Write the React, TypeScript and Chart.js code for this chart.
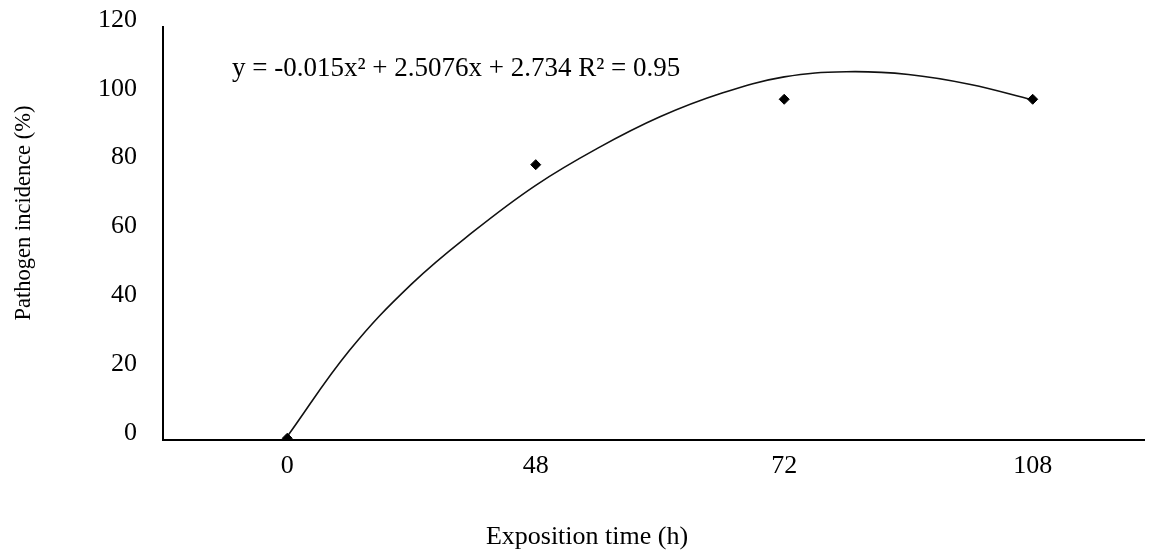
import React, { useEffect, useRef } from 'react';
import { Chart, registerables } from 'chart.js';

Chart.register(...registerables);

// ---- data ----
const categories = ['0', '48', '72', '108'];
const incidence = [0.5, 80, 99, 99];
// trend curve samples (x in category-index units)
const trendX = [0, 0.25, 0.5, 0.75, 1, 1.25, 1.5, 1.75, 2, 2.25, 2.5, 2.75, 3];
const trendY = [1, 26, 45.3, 60.6, 74, 84.8, 93.9, 100.8, 105.5, 107, 106.2, 103.3, 98.8];
const yTicks = [0, 20, 40, 60, 80, 100, 120];
const equationText = 'y = -0.015x\u00B2 + 2.5076x + 2.734 R\u00B2 = 0.95';
const xTitle = 'Exposition time (h)';
const yTitle = 'Pathogen incidence (%)';

const FAMILY = "'Liberation Serif', 'Times New Roman', serif";

const annotPlugin = {
  id: 'annot',
  afterDraw(chart: any) {
    const ctx = chart.ctx;
    ctx.save();
    ctx.fillStyle = '#000';
    ctx.font = `27px ${FAMILY}`;
    ctx.textAlign = 'left';
    ctx.textBaseline = 'alphabetic';
    ctx.fillText(equationText, 232, 76);

    ctx.textAlign = 'center';
    ctx.textBaseline = 'middle';
    ctx.font = `26px ${FAMILY}`;
    ctx.fillText(xTitle, 587, 537);

    ctx.translate(24, 213);
    ctx.rotate(-Math.PI / 2);
    ctx.font = `22.5px ${FAMILY}`;
    ctx.fillText(yTitle, 0, 0);
    ctx.restore();
  },
};

export default function App() {
  const ref = useRef<HTMLCanvasElement | null>(null);

  useEffect(() => {
    if (!ref.current) return;
    const chart = new Chart(ref.current, {
      type: 'line',
      data: {
        datasets: [
          {
            label: 'Observed',
            data: incidence.map((v, i) => ({ x: i, y: v })),
            showLine: false,
            pointStyle: 'rectRot',
            pointRadius: 5,
            pointBackgroundColor: '#000',
            pointBorderColor: '#000',
            pointBorderWidth: 1,
          },
          {
            label: 'Trend',
            data: trendX.map((x, i) => ({ x, y: trendY[i] })),
            borderColor: '#111',
            borderWidth: 1.6,
            pointRadius: 0,
            tension: 0.4,
            fill: false,
          },
        ],
      },
      options: {
        responsive: false,
        animation: false,
        layout: { padding: { top: 27, right: 0, left: 0, bottom: 0 } },
        plugins: {
          legend: { display: false },
          tooltip: { enabled: false },
        },
        scales: {
          x: {
            type: 'linear',
            min: -0.5,
            max: 3.448,
            afterBuildTicks: (s: any) => {
              s.ticks = categories.map((_, i) => ({ value: i }));
            },
            afterFit: (s: any) => {
              s.height = 110;
              s.paddingLeft = 0;
              s.paddingRight = 0;
            },
            ticks: {
              callback: (v: any) => categories[v] ?? '',
              color: '#000',
              font: { family: FAMILY, size: 26 },
              padding: 11,
              maxRotation: 0,
              autoSkip: false,
            },
            grid: { display: false, drawTicks: false },
            border: { display: true, color: '#000', width: 2 },
          },
          y: {
            min: 0,
            max: 120,
            afterBuildTicks: (s: any) => {
              s.ticks = yTicks.map((v) => ({ value: v }));
            },
            afterFit: (s: any) => {
              s.width = 163;
              s.paddingTop = 0;
              s.paddingBottom = 0;
            },
            ticks: {
              color: '#000',
              font: { family: FAMILY, size: 26 },
              padding: 26,
              labelOffset: -7,
            },
            grid: { display: false, drawTicks: false },
            border: { display: true, color: '#000', width: 2 },
          },
        },
      },
      plugins: [annotPlugin],
    } as any);
    return () => chart.destroy();
  }, []);

  return (
    <div style={{ position: 'absolute', left: 0, top: 0, width: 1150, height: 550, background: '#fff' }}>
      <canvas ref={ref} width={1150} height={550} style={{ display: 'block' }} />
    </div>
  );
}
